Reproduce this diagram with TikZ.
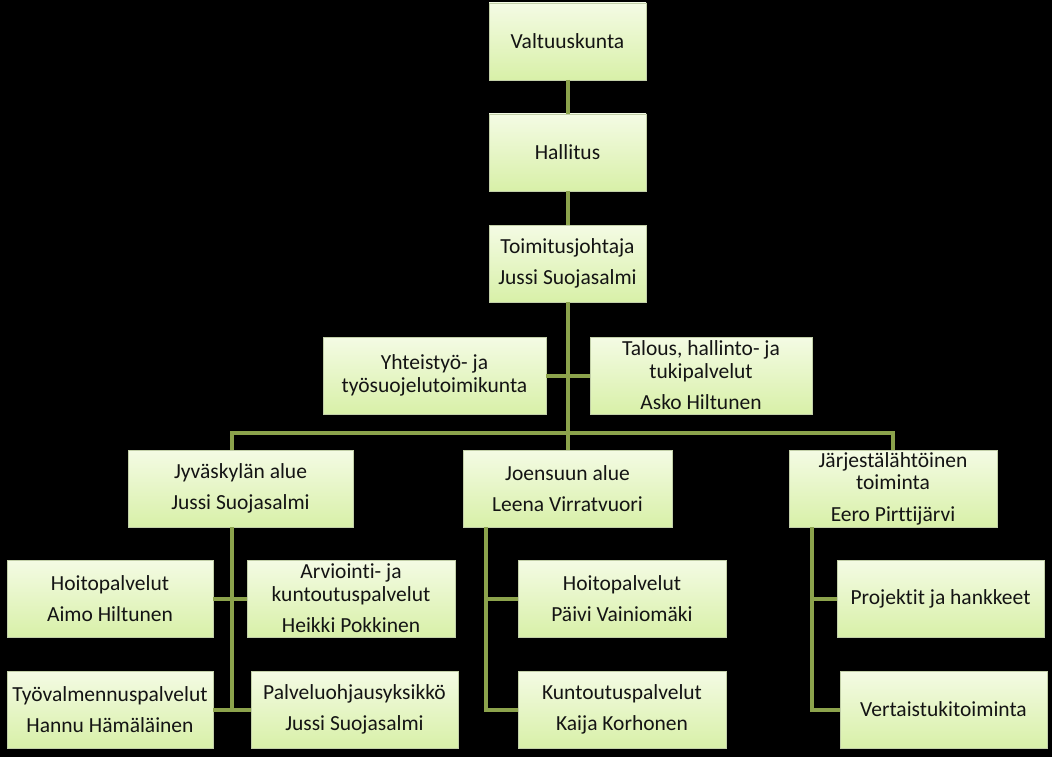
\documentclass[tikz,border=0pt]{standalone}
\usepackage{fontspec}
\setmainfont{Carlito}[Ligatures={NoCommon}]
\definecolor{conn}{HTML}{8CA34C}
\definecolor{boxtop}{HTML}{F4FBE4}
\definecolor{boxbot}{HTML}{D8F0A8}
\definecolor{boxline}{HTML}{C2CFA8}
\definecolor{txt}{HTML}{141414}
\begin{document}
\begin{tikzpicture}[x=1pt,y=-1pt,
  orgbox/.style={draw=boxline, line width=0.8pt, top color=boxtop, bottom color=boxbot,
    anchor=north west, inner sep=2pt, outer sep=0pt, align=center, text=txt,
    font=\fontsize{21.5}{22.5}\selectfont},
  link/.style={draw=conn, line width=4pt}]
\fill[black] (0,0) rectangle (1052,757);
\useasboundingbox (0,0) rectangle (1052,757);
% top chain
\node[orgbox, minimum width=157pt, minimum height=77pt] (valt) at (489,3) {Valtuuskunta};
\node[orgbox, minimum width=157pt, minimum height=77pt] (hall) at (489,114) {Hallitus};
\node[orgbox, minimum width=157pt, minimum height=77pt] (toim) at (489,225) {Toimitusjohtaja\\[9pt]Jussi Suojasalmi};
\node[orgbox, minimum width=223pt, minimum height=77pt] (yht) at (323,337) {Yhteistyö- ja\\työsuojelutoimikunta};
\node[orgbox, minimum width=222pt, minimum height=77pt] (tal) at (590,337) {Talous, hallinto- ja\\tukipalvelut\\[9pt]Asko Hiltunen};
% areas
\node[orgbox, minimum width=225pt, minimum height=77pt] (jyv) at (128,450) {Jyväskylän alue\\[9pt]Jussi Suojasalmi};
\node[orgbox, minimum width=209pt, minimum height=77pt] (joen) at (463,450) {Joensuun alue\\[9pt]Leena Virratvuori};
\node[orgbox, minimum width=208pt, minimum height=77pt] (jar) at (789,450) {Järjestälähtöinen\\toiminta\\[9pt]Eero Pirttijärvi};
% Jyväskylä children
\node[orgbox, minimum width=206pt, minimum height=77pt] (hoi1) at (7,560) {Hoitopalvelut\\[9pt]Aimo Hiltunen};
\node[orgbox, minimum width=208pt, minimum height=77pt] (arv) at (247,560) {Arviointi- ja\\kuntoutuspalvelut\\[9pt]Heikki Pokkinen};
\node[orgbox, minimum width=206pt, minimum height=77pt] (tyo) at (7,671) {Työvalmennuspalvelut\\[9pt]Hannu Hämäläinen};
\node[orgbox, minimum width=207pt, minimum height=77pt] (pal) at (251,671) {Palveluohjausyksikkö\\[9pt]Jussi Suojasalmi};
% Joensuu children
\node[orgbox, minimum width=208pt, minimum height=77pt] (hoi2) at (518,560) {Hoitopalvelut\\[9pt]Päivi Vainiomäki};
\node[orgbox, minimum width=208pt, minimum height=77pt] (kun) at (518,671) {Kuntoutuspalvelut\\[9pt]Kaija Korhonen};
% Järjestä children
\node[orgbox, minimum width=207pt, minimum height=77pt] (pro) at (837,560) {Projektit ja hankkeet};
\node[orgbox, minimum width=207pt, minimum height=77pt] (ver) at (840,671) {Vertaistukitoiminta};
% connectors
\coordinate (bl) at (232,433);
\coordinate (br) at (893,433);
\coordinate (jx) at (486,0);
\coordinate (kx) at (812,0);
\draw[link] (valt.south) -- (hall.north);
\draw[link] (hall.south) -- (toim.north);
\draw[link] (toim.south) -- (joen.north);
\draw[link] (yht.east) -- (tal.west);
\draw[link] (bl |- jyv.north) -- (bl) -- (br) -- (jar.north);
\draw[link] (bl |- jyv.south) -- (bl |- pal.west);
\draw[link] (hoi1.east) -- (arv.west);
\draw[link] (tyo.east) -- (pal.west);
\draw[link] (jx |- joen.south) -- (jx |- kun.west) -- (kun.west);
\draw[link] (jx |- hoi2.west) -- (hoi2.west);
\draw[link] (kx |- jar.south) -- (kx |- ver.west) -- (ver.west);
\draw[link] (kx |- pro.west) -- (pro.west);
\end{tikzpicture}
\end{document}
